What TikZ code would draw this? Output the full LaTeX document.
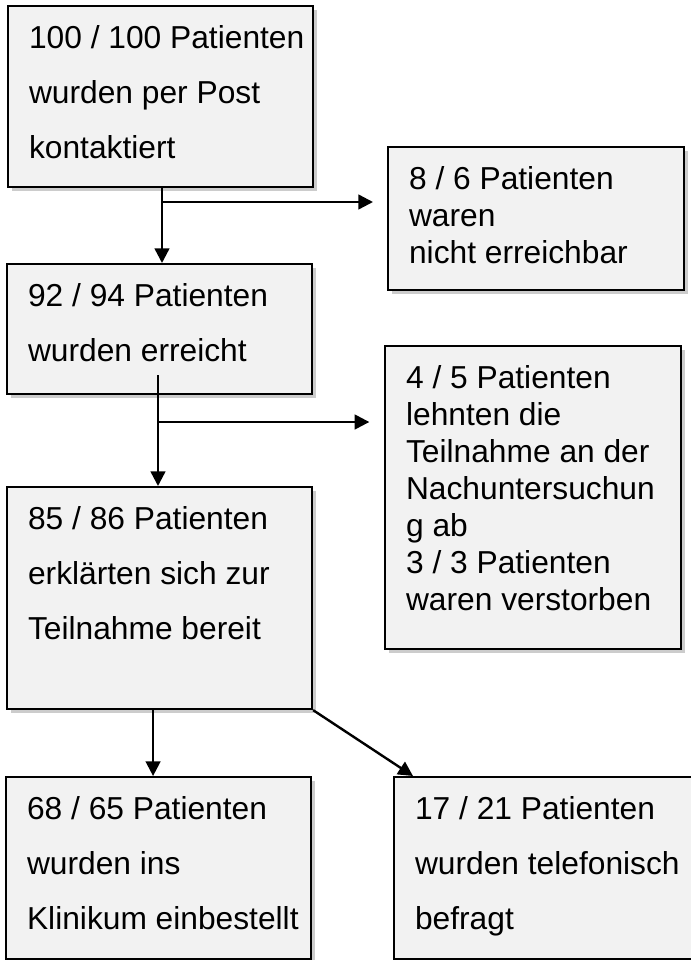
\documentclass[tikz,border=0pt]{standalone}
\usepackage{fontspec}
\setmainfont{Liberation Sans}
\usetikzlibrary{arrows.meta,shadows,calc}
\definecolor{boxgray}{HTML}{F2F2F2}
\begin{document}
\begin{tikzpicture}[x=0.75pt, y=-0.75pt,
  flowbox/.style={draw, line width=1.6pt, fill=boxgray, anchor=north west, inner sep=0pt, align=flush left,
    drop shadow={shadow xshift=3pt, shadow yshift=-3pt, opacity=0.4},
    font={\fontsize{23.8pt}{41.25pt}\selectfont}, text height=31.5pt,
    execute at begin node={\leftskip=15.75pt}},
  tight/.style={font={\fontsize{23.8pt}{27.75pt}\selectfont}},
  flow/.style={line width=1.8pt, -{Triangle[length=11pt, width=11pt]}}]
  \useasboundingbox (0,0) rectangle (690,960);
  \node[flowbox, text width=228.75pt, text depth=104.25pt] (post) at (7,5) {100 / 100 Patienten\\wurden per Post\\kontaktiert};
  \node[flowbox, tight, text width=222pt, text depth=75.75pt] (unreach) at (387,146) {8 / 6 Patienten\\waren\\nicht erreichbar};
  \node[flowbox, text width=228.75pt, text depth=66pt] (reached) at (6,263) {92 / 94 Patienten\\wurden erreicht};
  \node[flowbox, tight, text width=222pt, text depth=195.75pt] (decline) at (384,345) {4 / 5 Patienten\\lehnten die\\Teilnahme an der\\Nachuntersuchun\\g ab\\3 / 3 Patienten\\waren verstorben};
  \node[flowbox, text width=228.75pt, text depth=135pt] (ready) at (6,486) {85 / 86 Patienten\\erklärten sich zur\\Teilnahme bereit};
  \node[flowbox, text width=228.75pt, text depth=105pt] (clinic) at (5,776) {68 / 65 Patienten\\wurden ins\\Klinikum einbestellt};
  \node[flowbox, text width=224.25pt, text depth=105pt] (phone) at (393,776) {17 / 21 Patienten\\wurden telefonisch\\befragt};
  \coordinate (fork1) at (162,202);
  \coordinate (fork2) at (158,422);
  \coordinate (split) at ($(ready.south)+(-6.5,0)$);
  \draw[flow] (post.south -| fork1) -- (fork1 |- reached.north);
  \draw[flow, shorten >=10.5pt] (fork1) -- (fork1 -| unreach.west);
  \draw[flow] ($(fork2 |- reached.south)+(0,-20)$) -- (fork2 |- ready.north);
  \draw[flow, shorten >=11pt] (fork2) -- (fork2 -| decline.west);
  \draw[flow] (split) -- (split |- clinic.north);
  \draw[flow] (ready.south east) -- ([xshift=15pt]phone.north west);
\end{tikzpicture}
\end{document}
